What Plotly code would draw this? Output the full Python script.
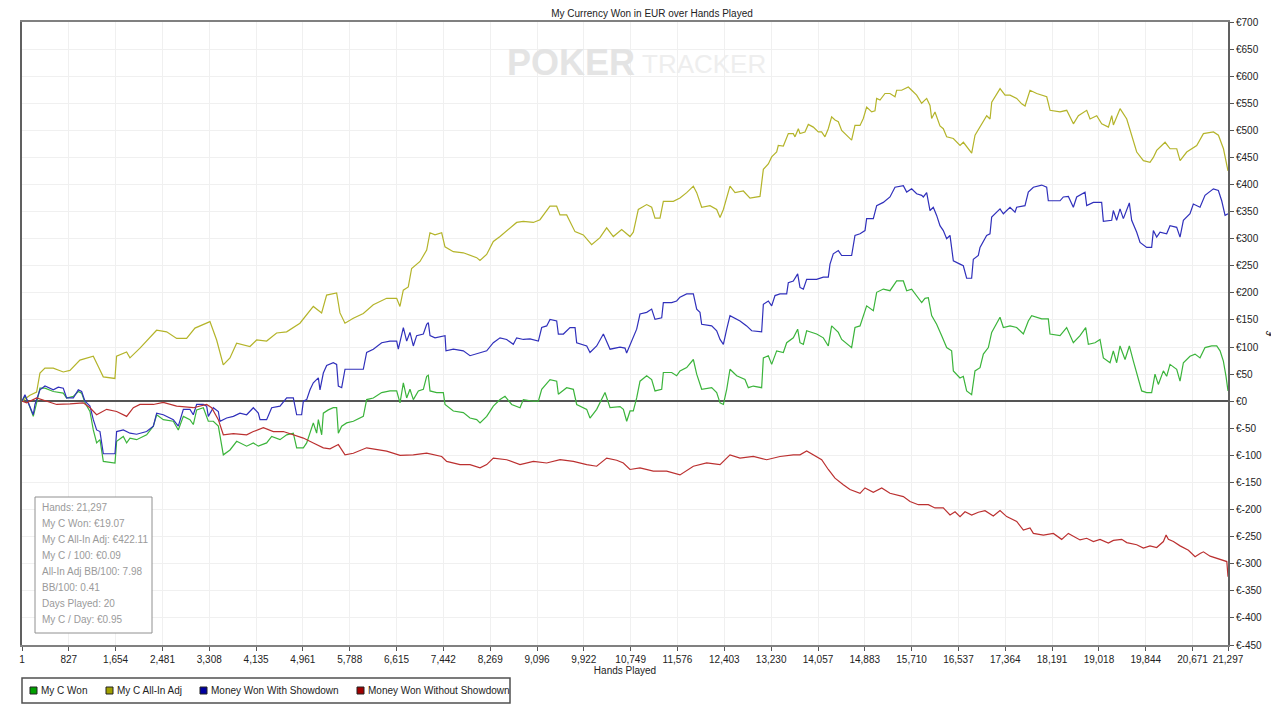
import plotly.graph_objects as go

# === DADOS ===
hand_ticks = [1, 827, 1654, 2481, 3308, 4135, 4961, 5788, 6615, 7442, 8269, 9096, 9922,
              10749, 11576, 12403, 13230, 14057, 14883, 15710, 16537, 17364, 18191, 19018,
              19844, 20671, 21297]
eur_ticks = [-450, -400, -350, -300, -250, -200, -150, -100, -50, 0, 50, 100, 150, 200,
             250, 300, 350, 400, 450, 500, 550, 600, 650, 700]
eur_labels = ['€-450', '€-400', '€-350', '€-300', '€-250', '€-200', '€-150', '€-100', '€-50',
              '€0', '€50', '€100', '€150', '€200', '€250', '€300', '€350', '€400', '€450',
              '€500', '€550', '€600', '€650', '€700']

# My C Won
won_hands = [1, 53, 112, 171, 200, 259, 318, 407, 554, 730,
             789, 907, 995, 1054, 1113, 1201, 1260, 1319, 1378, 1437,
             1643, 1672, 1790, 1849, 1908, 2025, 2202, 2320, 2379, 2496,
             2673, 2761, 2850, 2967, 3026, 3085, 3203, 3291, 3379, 3468,
             3556, 3674, 3792, 3968, 4086, 4174, 4321, 4410, 4557, 4675,
             4792, 4851, 4969, 5028, 5145, 5204, 5234, 5293, 5322, 5410,
             5498, 5557, 5587, 5646, 5734, 5852, 6028, 6087, 6205, 6352,
             6499, 6617, 6676, 6735, 6794, 6852, 6911, 7000, 7088, 7147,
             7176, 7206, 7323, 7441, 7471, 7618, 7794, 7912, 8030, 8089,
             8207, 8324, 8442, 8530, 8648, 8795, 8854, 9031, 9119, 9178,
             9325, 9443, 9472, 9619, 9737, 9796, 9973, 10031, 10149, 10296,
             10385, 10561, 10620, 10679, 10738, 10796, 10855, 10914, 11032, 11120,
             11179, 11297, 11326, 11473, 11561, 11620, 11738, 11856, 11915, 12003,
             12180, 12268, 12327, 12386, 12445, 12503, 12621, 12768, 12827, 12915,
             13062, 13092, 13180, 13239, 13327, 13445, 13504, 13621, 13698, 13739,
             13798, 13857, 14033, 14151, 14239, 14298, 14416, 14475, 14651, 14710,
             14799, 14916, 15034, 15093, 15210, 15328, 15446, 15564, 15623, 15711,
             15799, 15888, 15946, 16005, 16064, 16152, 16241, 16329, 16417, 16447,
             16564, 16623, 16682, 16770, 16829, 16918, 16977, 17065, 17124, 17271,
             17330, 17448, 17565, 17683, 17771, 17830, 18007, 18124, 18154, 18331,
             18448, 18566, 18684, 18784, 18831, 18948, 19037, 19096, 19214, 19272,
             19331, 19390, 19479, 19555, 19626, 19685, 19773, 19861, 19949, 20008,
             20067, 20156, 20214, 20273, 20391, 20450, 20509, 20626, 20715, 20803,
             20891, 21009, 21098, 21157, 21215, 21262, 21297]
won_eur = [0, 9, -3, -22, -28, -3, 24, 24, 18, 15,
           6, 9, 18, 15, -3, -19, -53, -77, -71, -111,
           -114, -74, -65, -77, -68, -71, -62, -46, -25, -34,
           -37, -53, -28, -34, -43, -16, -12, -37, -37, -46,
           -99, -90, -74, -83, -77, -83, -77, -65, -71, -62,
           -59, -86, -86, -77, -40, -59, -34, -62, -22, -16,
           -12, -12, -59, -46, -40, -37, -28, 3, 6, 16,
           19, 19, -3, 34, 6, 22, 3, 19, 22, 46,
           48, 19, 16, 16, -6, -18, -21, -31, -34, -40,
           -28, -9, 3, 9, -6, -12, 3, 0, 0, 22,
           40, 37, 13, 25, 22, -6, -15, -31, -15, 16,
           -12, -10, -15, -37, -18, -18, 6, 37, 47, 40,
           19, 22, 53, 53, 47, 56, 62, 77, 50, 22,
           25, 16, -3, -6, 22, 59, 47, 40, 25, 28,
           25, 80, 84, 68, 93, 90, 108, 117, 133, 108,
           105, 130, 124, 117, 102, 139, 127, 114, 99, 136,
           139, 176, 167, 201, 207, 204, 222, 222, 204, 207,
           195, 182, 190, 191, 158, 142, 121, 99, 93, 56,
           43, 46, 19, 12, 56, 62, 87, 99, 127, 155,
           136, 139, 136, 124, 148, 158, 152, 152, 124, 121,
           136, 108, 121, 136, 105, 108, 114, 80, 71, 93,
           71, 102, 77, 102, 74, 50, 19, 16, 16, 50,
           31, 56, 46, 68, 59, 37, 71, 83, 87, 80,
           99, 102, 102, 93, 74, 46, 19]

# My C All-In Adj
adj_hands = [1, 141, 259, 318, 406, 553, 730, 848, 1024, 1260,
             1348, 1436, 1642, 1671, 1848, 1907, 2084, 2378, 2555, 2732,
             2908, 3055, 3320, 3438, 3555, 3673, 3791, 4026, 4144, 4321,
             4497, 4674, 4909, 5145, 5292, 5380, 5557, 5616, 5704, 5851,
             6028, 6204, 6440, 6617, 6675, 6734, 6822, 6881, 7029, 7147,
             7205, 7294, 7412, 7470, 7617, 7794, 8030, 8088, 8206, 8324,
             8442, 8618, 8736, 8853, 9030, 9148, 9324, 9442, 9501, 9619,
             9766, 9913, 10060, 10207, 10325, 10443, 10590, 10737, 10796, 10884,
             11032, 11120, 11179, 11267, 11326, 11502, 11620, 11738, 11856, 11915,
             12003, 12150, 12268, 12327, 12386, 12503, 12592, 12739, 12856, 13033,
             13092, 13180, 13239, 13327, 13356, 13445, 13533, 13621, 13651, 13710,
             13739, 13827, 13886, 13974, 14063, 14121, 14180, 14239, 14298, 14357,
             14416, 14475, 14563, 14651, 14710, 14799, 14857, 14916, 15005, 15063,
             15093, 15152, 15240, 15328, 15417, 15446, 15534, 15593, 15652, 15711,
             15799, 15887, 15976, 16035, 16064, 16123, 16211, 16270, 16329, 16447,
             16565, 16624, 16771, 16830, 16918, 17036, 17095, 17125, 17272, 17360,
             17448, 17566, 17654, 17713, 17801, 17919, 18096, 18155, 18331, 18449,
             18567, 18655, 18802, 18861, 18979, 19067, 19185, 19244, 19273, 19391,
             19509, 19597, 19685, 19803, 19920, 19979, 20038, 20186, 20274, 20392,
             20451, 20568, 20745, 20863, 21040, 21128, 21217, 21297]
adj_eur = [0, 11, 17, 52, 61, 61, 54, 57, 76, 83,
           64, 45, 42, 83, 91, 80, 98, 131, 128, 116,
           116, 135, 147, 113, 67, 80, 107, 101, 113, 111,
           126, 128, 144, 175, 163, 196, 200, 163, 144, 153,
           162, 178, 190, 190, 175, 205, 211, 245, 258, 279,
           311, 307, 311, 285, 276, 274, 265, 260, 271, 295,
           304, 320, 330, 332, 330, 335, 360, 360, 344, 344,
           313, 307, 289, 302, 320, 304, 317, 304, 312, 354,
           363, 358, 338, 338, 369, 369, 375, 385, 397, 385,
           358, 361, 354, 339, 354, 397, 385, 388, 375, 378,
           428, 438, 451, 460, 472, 471, 494, 494, 488, 503,
           494, 497, 511, 506, 497, 497, 488, 503, 525, 519,
           516, 500, 491, 482, 509, 509, 522, 543, 534, 536,
           559, 556, 568, 568, 562, 574, 574, 577, 580, 574,
           565, 550, 559, 546, 522, 534, 508, 503, 488, 485,
           472, 478, 458, 491, 506, 527, 521, 552, 577, 565,
           565, 559, 549, 545, 574, 568, 562, 537, 534, 537,
           512, 527, 537, 521, 527, 512, 506, 527, 510, 540,
           521, 488, 460, 444, 441, 450, 463, 478, 466, 466,
           444, 460, 472, 494, 497, 491, 466, 425]

# Money Won With Showdown
sd_hands = [1, 53, 112, 171, 200, 230, 318, 407, 554, 642,
            730, 789, 907, 995, 1054, 1113, 1201, 1260, 1319, 1378,
            1437, 1643, 1672, 1790, 1908, 2025, 2202, 2320, 2379, 2496,
            2673, 2761, 2850, 2967, 3026, 3085, 3203, 3262, 3291, 3379,
            3468, 3497, 3615, 3733, 3850, 3968, 4086, 4174, 4204, 4321,
            4410, 4557, 4675, 4792, 4851, 4939, 4969, 5028, 5087, 5145,
            5234, 5263, 5322, 5381, 5440, 5498, 5557, 5587, 5646, 5705,
            5822, 6028, 6087, 6205, 6352, 6499, 6617, 6646, 6735, 6794,
            6852, 6911, 6970, 7088, 7147, 7176, 7206, 7294, 7471, 7488,
            7618, 7794, 7912, 8089, 8207, 8324, 8442, 8560, 8677, 8736,
            8854, 8972, 9119, 9178, 9266, 9325, 9443, 9472, 9561, 9678,
            9767, 9796, 9973, 10031, 10149, 10267, 10385, 10561, 10649, 10678,
            10767, 10855, 10914, 11032, 11120, 11179, 11297, 11326, 11473, 11561,
            11620, 11738, 11856, 11915, 11973, 12003, 12180, 12268, 12327, 12386,
            12445, 12503, 12680, 12797, 12886, 13062, 13092, 13180, 13239, 13298,
            13386, 13504, 13533, 13621, 13698, 13739, 13798, 13857, 14033, 14151,
            14239, 14269, 14327, 14416, 14475, 14651, 14710, 14799, 14887, 14916,
            15034, 15093, 15210, 15328, 15417, 15564, 15623, 15711, 15799, 15888,
            15917, 15976, 16035, 16093, 16152, 16211, 16270, 16329, 16388, 16417,
            16447, 16564, 16623, 16682, 16770, 16800, 16888, 16918, 17035, 17094,
            17124, 17271, 17330, 17448, 17536, 17565, 17712, 17771, 17860, 18007,
            18095, 18124, 18331, 18389, 18478, 18566, 18625, 18772, 18802, 18919,
            19066, 19096, 19243, 19272, 19331, 19390, 19449, 19555, 19596, 19685,
            19744, 19861, 19949, 19979, 20038, 20097, 20214, 20273, 20391, 20450,
            20509, 20626, 20685, 20803, 20891, 21039, 21127, 21186, 21245, 21297]
sd_eur = [0, 12, -3, -19, -25, -6, 21, 28, 21, 26,
          24, 6, 6, 21, 18, 0, -9, -34, -53, -56,
          -97, -97, -56, -53, -59, -61, -56, -46, -22, -25,
          -34, -46, -15, -15, -25, -6, -6, -9, -28, -12,
          -19, -37, -31, -28, -22, -25, -12, -22, -34, -34,
          -12, -9, 6, 6, -25, -25, 0, 3, 21, 34,
          43, 21, 52, 66, 68, 71, 68, 28, 25, 59,
          59, 59, 90, 96, 108, 111, 111, 96, 136, 111,
          127, 102, 121, 124, 142, 145, 121, 117, 121, 93,
          96, 93, 84, 90, 93, 108, 117, 114, 105, 117,
          114, 115, 111, 136, 139, 151, 148, 124, 124, 136,
          136, 108, 102, 90, 102, 124, 96, 100, 98, 89,
          111, 133, 161, 164, 170, 151, 154, 182, 182, 185,
          192, 198, 198, 170, 164, 142, 139, 130, 114, 105,
          133, 158, 148, 139, 130, 128, 179, 185, 176, 195,
          198, 198, 219, 222, 235, 210, 207, 225, 225, 229,
          229, 253, 272, 278, 269, 269, 306, 309, 315, 337,
          337, 361, 367, 377, 395, 398, 386, 392, 383, 380,
          377, 385, 352, 358, 343, 324, 315, 300, 306, 287,
          259, 253, 250, 227, 227, 262, 269, 284, 306, 309,
          340, 355, 346, 358, 349, 358, 361, 386, 395, 399,
          395, 370, 370, 377, 378, 358, 377, 386, 361, 367,
          367, 332, 334, 352, 334, 355, 337, 366, 334, 312,
          293, 284, 284, 315, 303, 312, 309, 324, 321, 303,
          334, 346, 364, 358, 380, 392, 389, 370, 343, 346]

# Money Won Without Showdown
nosd_hands = [1, 83, 259, 436, 613, 848, 1083, 1201, 1319, 1496,
              1672, 1849, 1967, 2084, 2320, 2496, 2732, 3026, 3262, 3350,
              3468, 3556, 3733, 3968, 4086, 4263, 4439, 4616, 4792, 4969,
              5145, 5322, 5440, 5587, 5705, 5852, 6087, 6264, 6440, 6676,
              6911, 7147, 7412, 7500, 7736, 7912, 8089, 8207, 8324, 8560,
              8795, 9031, 9266, 9502, 9737, 9973, 10149, 10326, 10502, 10620,
              10737, 10914, 11149, 11385, 11620, 11856, 12092, 12327, 12503, 12680,
              12915, 13151, 13386, 13621, 13739, 13857, 13974, 14122, 14239, 14357,
              14504, 14622, 14799, 14887, 15034, 15182, 15328, 15476, 15564, 15682,
              15829, 16005, 16123, 16270, 16388, 16477, 16565, 16653, 16771, 16889,
              17006, 17153, 17271, 17389, 17566, 17683, 17801, 17860, 18037, 18213,
              18360, 18478, 18596, 18684, 18802, 18920, 19037, 19184, 19273, 19420,
              19509, 19685, 19803, 19920, 20038, 20156, 20204, 20244, 20333, 20451,
              20598, 20716, 20804, 20863, 20981, 21099, 21217, 21276, 21297]
nosd_eur = [0, -3, 6, 0, -6, -5, -3, -12, -25, -15,
            -19, -28, -12, -6, -6, -2, -9, -12, -6, -12,
            -34, -62, -60, -62, -56, -49, -56, -56, -62, -68,
            -77, -86, -88, -80, -99, -96, -86, -89, -92, -100,
            -99, -96, -102, -111, -117, -117, -123, -117, -105, -108,
            -117, -111, -114, -108, -111, -117, -120, -105, -109, -114,
            -126, -123, -129, -129, -136, -120, -114, -117, -99, -105,
            -102, -108, -102, -99, -99, -92, -99, -108, -126, -142,
            -154, -163, -170, -160, -168, -160, -170, -173, -176, -185,
            -191, -191, -197, -197, -210, -204, -213, -204, -210, -205,
            -202, -212, -202, -213, -222, -238, -234, -244, -247, -244,
            -255, -244, -251, -256, -253, -259, -255, -262, -257, -255,
            -261, -265, -271, -267, -270, -259, -247, -255, -259, -267,
            -275, -287, -281, -278, -286, -290, -293, -296, -324]

stats_lines = ['Hands: 21,297', 'My C Won: €19.07', 'My C All-In Adj: €422.11',
               'My C / 100: €0.09', 'All-In Adj BB/100: 7.98', 'BB/100: 0.41',
               'Days Played: 20', 'My C / Day: €0.95']

series = [
    ('My C Won', won_hands, won_eur, '#3bb43b', '#00a000'),
    ('My C All-In Adj', adj_hands, adj_eur, '#b4b42a', '#a0a000'),
    ('Money Won With Showdown', sd_hands, sd_eur, '#3030bb', '#0000a0'),
    ('Money Won Without Showdown', nosd_hands, nosd_eur, '#bb3030', '#a00000'),
]

FONTE = 'Liberation Sans'
# a página tem 8px de margem no body: a figura fica deslocada 8px
OFF = 8
W, H = 1279 - OFF, 710 - OFF
PL, PR, PT, PB = 22, 1228, 22, 645   # área do gráfico (pixels da tela)


def px_x(x):
    return (x - PL) / (PR - PL)


def px_y(y):
    return (PB - y) / (PB - PT)


fig = go.Figure()
for nome, xs, ys, cor_linha, cor_leg in series:
    assert len(xs) == len(ys), nome
    fig.add_trace(go.Scatter(x=xs, y=ys, mode='lines', name=nome, showlegend=False,
                             line=dict(color=cor_linha, width=1.2)))

# legenda desenhada à mão (caixa embaixo)
fig.add_shape(type='rect', xref='paper', yref='paper', x0=px_x(22), x1=px_x(510),
              y0=px_y(703), y1=px_y(678), line=dict(color='#505050', width=1.5))
legenda_x = [30, 106, 200, 357]
for (nome, xs, ys, cor_linha, cor_leg), lx in zip(series, legenda_x):
    fig.add_shape(type='rect', xref='paper', yref='paper', x0=px_x(lx), x1=px_x(lx + 7),
                  y0=px_y(694), y1=px_y(687), fillcolor=cor_leg,
                  line=dict(color='#222222', width=1))
    fig.add_annotation(x=px_x(lx + 9), y=px_y(690.5), xref='paper', yref='paper',
                       text=nome, showarrow=False, xanchor='left', yanchor='middle',
                       font=dict(family=FONTE, size=10, color='#222222'))

# caixa de estatísticas
fig.add_shape(type='rect', xref='paper', yref='paper', x0=px_x(35), x1=px_x(152),
              y0=px_y(633), y1=px_y(497), line=dict(color='#909090', width=1),
              fillcolor='white', layer='above')
for i, linha in enumerate(stats_lines):
    fig.add_annotation(x=px_x(40), y=px_y(507 + 16 * i), xref='paper', yref='paper',
                       text=linha, showarrow=False, xanchor='left', yanchor='middle',
                       font=dict(family=FONTE, size=10, color='#9a9a9a'))

# marca d'água
fig.add_annotation(x=px_x(505), y=px_y(63), xref='paper', yref='paper', showarrow=False,
                   xanchor='left', yanchor='middle',
                   text='<b>POKER</b>', font=dict(family=FONTE, size=36, color='#e4e4e4'))
fig.add_annotation(x=px_x(640), y=px_y(64), xref='paper', yref='paper', showarrow=False,
                   xanchor='left', yanchor='middle',
                   text='TRACKER', font=dict(family=FONTE, size=26, color='#eeeeee'))

fig.update_layout(
    width=W, height=H,
    margin=dict(l=PL - OFF, r=W - (PR - OFF), t=PT - OFF, b=H - (PB - OFF)),
    paper_bgcolor='white', plot_bgcolor='white',
    font=dict(family=FONTE, size=10, color='#222222'),
    title=dict(text='My Currency Won in EUR over Hands Played', x=(652 - OFF) / W,
               xanchor='center', y=1 - 5 / H, yanchor='middle', automargin=False,
               font=dict(family=FONTE, size=10, color='#222222')),
    showlegend=False,
    xaxis=dict(range=[1, 21297], tickvals=hand_ticks, tickformat=',d', automargin=False,
               ticks='outside', ticklen=4, tickcolor='#555555',
               showgrid=True, gridcolor='#f0f0f0', gridwidth=1,
               showline=True, linecolor='#808080', linewidth=2, mirror=True,
               zeroline=False,
               title=dict(text='Hands Played', standoff=0,
                          font=dict(family=FONTE, size=10, color='#222222'))),
    yaxis=dict(range=[-450, 700], side='right', tickvals=eur_ticks, ticktext=eur_labels,
               automargin=False,
               ticks='outside', ticklen=4, tickcolor='#555555',
               showgrid=True, gridcolor='#f0f0f0', gridwidth=1,
               showline=True, linecolor='#606060', linewidth=2, mirror=True,
               zeroline=True, zerolinecolor='#555555', zerolinewidth=1.5,
               title=dict(text='€', standoff=6,
                          font=dict(family=FONTE, size=10, color='#222222'))),
)

fig.write_html('out.html')
